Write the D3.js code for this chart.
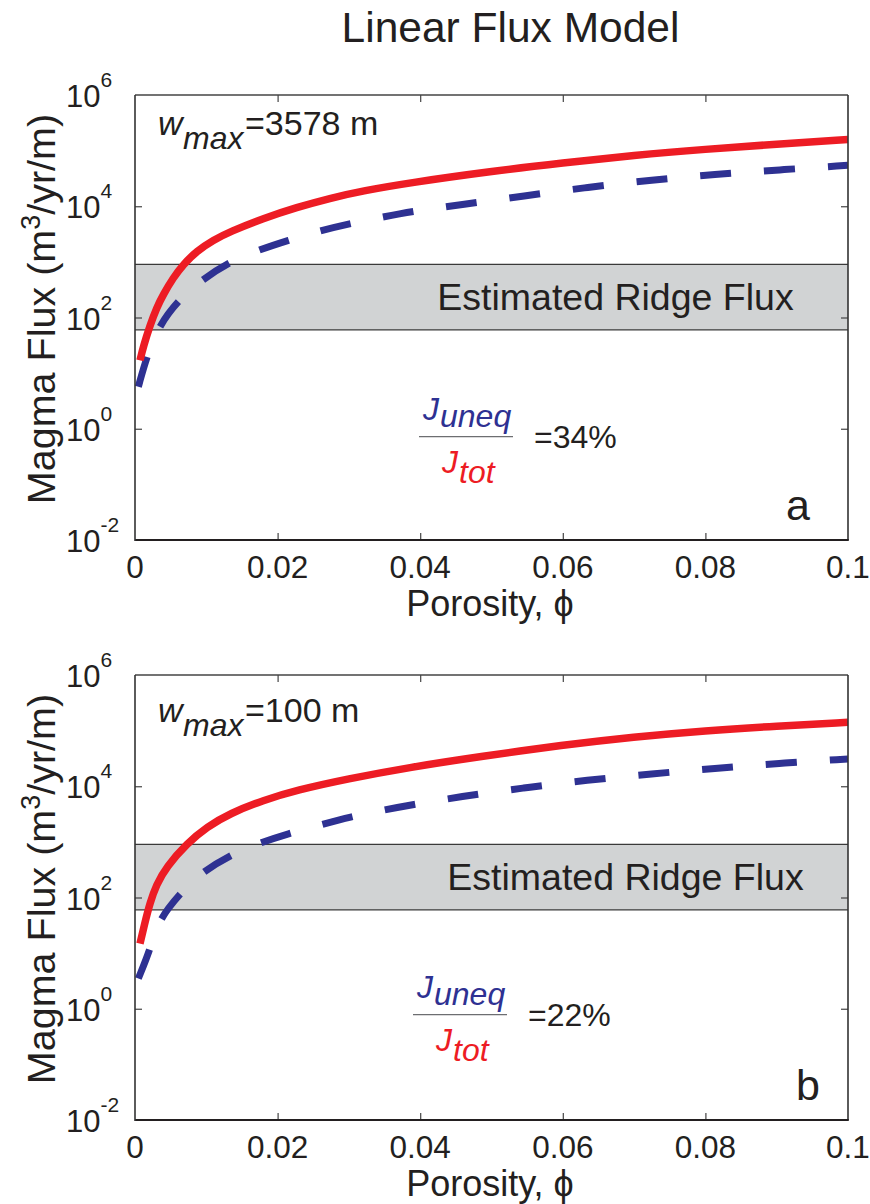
<!DOCTYPE html>
<html><head><meta charset="utf-8">
<script src="https://cdn.jsdelivr.net/npm/d3@7"></script>
<style>
body{margin:0;background:#fff}
svg{display:block}
text{font-family:"Liberation Sans",Arial,Helvetica,sans-serif;fill:#231f20}
</style>
</head><body>
<svg id="c" width="870" height="1204"></svg>
<script>
// ---------------- data ----------------
const title = "Linear Flux Model";
const xTicks = [0, 0.02, 0.04, 0.06, 0.08, 0.1];
const xTickLabels = ["0", "0.02", "0.04", "0.06", "0.08", "0.1"];
const yTickExponents = [-2, 0, 2, 4, 6];
const bandRange = [60, 900];
const bandLabel = "Estimated Ridge Flux";
const panelLetters = ["a", "b"];
const wmaxValues = ["=3578 m", "=100 m"];
const ratioLabels = ["=34%", "=22%"];

// panel a: total flux (red, solid)
const totPhiA  = [0.0007, 0.00117, 0.0021, 0.00304, 0.00397, 0.00537, 0.00677, 0.00865, 0.011, 0.0133, 0.018, 0.0227, 0.0273, 0.032, 0.0386, 0.05, 0.06, 0.07, 0.08, 0.09, 0.1];
const totFluxA = [17, 30, 72, 150, 260, 520, 900, 1560, 2470, 3490, 6070, 9550, 13900, 19000, 26500, 42500, 60000, 82400, 106000, 131000, 158000];
// panel a: unequilibrated flux (blue, dashed)
const unePhiA  = [0.00047, 0.00164, 0.00327, 0.00608, 0.00935, 0.0133, 0.0173, 0.0215, 0.0259, 0.0302, 0.0348, 0.0386, 0.046, 0.0545, 0.0635, 0.0725, 0.0813, 0.0903, 0.1];
const uneFluxA = [5.7, 19.7, 68, 206, 472, 1010, 1630, 2450, 3600, 4900, 6400, 8000, 10800, 15300, 22000, 29700, 37500, 44900, 54500];

// panel b: total flux
const totPhiB  = [0.0007, 0.0014, 0.0021, 0.003, 0.0044, 0.0073, 0.0101, 0.0133, 0.018, 0.0227, 0.0297, 0.0386, 0.0486, 0.06, 0.0699, 0.08, 0.09, 0.1];
const totFluxB = [14.8, 36, 80, 170, 355, 940, 1860, 3240, 5620, 8510, 13500, 22000, 34500, 55000, 77000, 100000, 121000, 141000];
// panel b: unequilibrated flux
const unePhiB  = [0.00047, 0.0021, 0.00327, 0.0063, 0.0091, 0.0133, 0.0173, 0.0215, 0.0259, 0.0302, 0.0348, 0.0386, 0.0456, 0.0545, 0.0634, 0.0725, 0.0813, 0.0902, 0.1];
const uneFluxB = [3.5, 11.3, 39, 117, 269, 575, 940, 1410, 2000, 2820, 3720, 4600, 6500, 9370, 12900, 16700, 21000, 25700, 31000];

// ---------------- layout ----------------
const W = 870, H = 1204;
const left = 135, right = 848;
const panelTops = [95, 675];
const plotH = 445;
const RED = "#ed1c24", BLUE = "#2e3192", BAND = "#d1d3d4", INK = "#231f20";

const panels = [
  {top: panelTops[0], tot: d3.zip(totPhiA, totFluxA), une: d3.zip(unePhiA, uneFluxA),
   letter: panelLetters[0], wmax: wmaxValues[0], ratio: ratioLabels[0],
   wBase: 135, bandDx: 0, fracDx: 0, fracDy: 0, letterX: 786},
  {top: panelTops[1], tot: d3.zip(totPhiB, totFluxB), une: d3.zip(unePhiB, uneFluxB),
   letter: panelLetters[1], wmax: wmaxValues[1], ratio: ratioLabels[1],
   wBase: 722 - 580, bandDx: 10, fracDx: -6, fracDy: -2, letterX: 796}
];

const svg = d3.select("#c");
svg.append("rect").attr("width", W).attr("height", H).attr("fill", "#fff");

svg.append("text").attr("x", 510.5).attr("y", 42)
  .attr("text-anchor", "middle").style("font-size", "42.5px").text(title);

const x = d3.scaleLinear().domain([0, 0.1]).range([left, right]);

panels.forEach((p, i) => {
  const top = p.top, bottom = top + plotH;
  const off = top - panelTops[0];
  const y = d3.scaleLog().domain([1e-2, 1e6]).range([bottom, top]);
  const g = svg.append("g");

  const clipId = "clip" + i;
  svg.append("clipPath").attr("id", clipId).append("rect")
    .attr("x", left).attr("y", top).attr("width", right - left).attr("height", plotH);

  // band
  g.append("rect").attr("x", left).attr("width", right - left)
    .attr("y", y(bandRange[1])).attr("height", y(bandRange[0]) - y(bandRange[1]))
    .attr("fill", BAND);
  [bandRange[0], bandRange[1]].forEach(v => {
    g.append("line").attr("x1", left).attr("x2", right)
      .attr("y1", y(v)).attr("y2", y(v)).attr("stroke", "#3a3a3a").attr("stroke-width", 1.2);
  });
  g.append("text").attr("x", 615.5 + p.bandDx).attr("y", 310 + off)
    .attr("text-anchor", "middle").style("font-size", "37.5px").text(bandLabel);

  // ticks via d3 axes (inward)
  const axB = d3.axisBottom(x).tickValues(xTicks.slice(1, -1)).tickSizeInner(-7).tickSizeOuter(0).tickFormat("");
  const axT = d3.axisTop(x).tickValues(xTicks.slice(1, -1)).tickSizeInner(-7).tickSizeOuter(0).tickFormat("");
  const yTickVals = yTickExponents.slice(1, -1).map(e => Math.pow(10, e));
  const axL = d3.axisLeft(y).tickValues(yTickVals).tickSizeInner(-7).tickSizeOuter(0).tickFormat("");
  const axR = d3.axisRight(y).tickValues(yTickVals).tickSizeInner(-7).tickSizeOuter(0).tickFormat("");
  [[axB, `translate(0,${bottom})`], [axT, `translate(0,${top})`],
   [axL, `translate(${left},0)`], [axR, `translate(${right},0)`]].forEach(([ax, tr]) => {
    const a = g.append("g").attr("transform", tr).call(ax);
    a.select(".domain").remove();
    a.selectAll(".tick line").attr("stroke", "#444").attr("stroke-width", 1.2);
  });

  // curves
  const line = d3.line().x(d => x(d[0])).y(d => y(d[1])).curve(d3.curveBasis);
  const cg = g.append("g").attr("clip-path", `url(#${clipId})`);
  cg.append("path").datum(p.une).attr("d", line).attr("fill", "none")
    .attr("stroke", BLUE).attr("stroke-width", 7).attr("stroke-dasharray", "31,33");
  cg.append("path").datum(p.tot).attr("d", line).attr("fill", "none")
    .attr("stroke", RED).attr("stroke-width", 7.5);

  // frame
  g.append("line").attr("x1", left).attr("x2", right).attr("y1", top).attr("y2", top)
    .attr("stroke", "#444").attr("stroke-width", 1.3);
  g.append("line").attr("x1", right).attr("x2", right).attr("y1", top).attr("y2", bottom)
    .attr("stroke", "#333").attr("stroke-width", 1.6);
  g.append("line").attr("x1", left).attr("x2", right + 0.8).attr("y1", bottom).attr("y2", bottom)
    .attr("stroke", INK).attr("stroke-width", 2);
  g.append("line").attr("x1", left).attr("x2", left).attr("y1", top).attr("y2", bottom + 1)
    .attr("stroke", "#333").attr("stroke-width", 1.6);

  // x tick labels
  xTicks.forEach((t, k) => {
    g.append("text").attr("x", x(t)).attr("y", bottom + 38)
      .attr("text-anchor", "middle").style("font-size", "31.5px").text(xTickLabels[k]);
  });
  // y tick labels 10^n
  yTickExponents.forEach(e => {
    const yy = y(Math.pow(10, e));
    const t = g.append("text").attr("x", 66).attr("y", yy + 12).style("font-size", "31px");
    t.append("tspan").text("10");
    t.append("tspan").attr("dy", -20).style("font-size", "21px").text(String(e));
  });

  // axis labels
  g.append("text").attr("x", 490).attr("y", 616 + off)
    .attr("text-anchor", "middle").style("font-size", "36px").text("Porosity, \u03D5");
  const yl = g.append("text")
    .attr("transform", `translate(55,${309 + off}) rotate(-90)`)
    .attr("text-anchor", "middle").style("font-size", "39.5px");
  yl.append("tspan").text("Magma Flux (m");
  yl.append("tspan").attr("dy", -15).style("font-size", "27px").text("3");
  yl.append("tspan").attr("dy", 15).text("/yr/m)");

  // w_max annotation
  const wb = p.wBase + off;
  g.append("text").attr("x", 158).attr("y", wb).style("font-size", "34px")
    .style("font-style", "italic").text("w");
  g.append("text").attr("x", 183).attr("y", wb + 14).style("font-size", "32px")
    .style("font-style", "italic").text("max");
  g.append("text").attr("x", 245).attr("y", wb).style("font-size", "34px").text(p.wmax);

  // fraction
  const fx = p.fracDx, fy = off + p.fracDy;
  g.append("text").attr("x", 423 + fx).attr("y", 420 + fy).style("font-size", "32px")
    .style("font-style", "italic").style("fill", BLUE).text("J");
  g.append("text").attr("x", 440 + fx).attr("y", 427 + fy).style("font-size", "32px")
    .style("font-style", "italic").style("fill", BLUE).text("uneq");
  g.append("line").attr("x1", 419 + fx).attr("x2", 513 + fx)
    .attr("y1", 436.7 + fy).attr("y2", 436.7 + fy).attr("stroke", "#6d6e71").attr("stroke-width", 1.2);
  g.append("text").attr("x", 442 + fx).attr("y", 473 + fy).style("font-size", "32px")
    .style("font-style", "italic").style("fill", RED).text("J");
  g.append("text").attr("x", 459 + fx).attr("y", 483 + fy).style("font-size", "32px")
    .style("font-style", "italic").style("fill", RED).text("tot");
  g.append("text").attr("x", 534 + fx).attr("y", 448 + fy).style("font-size", "32px").text(p.ratio);

  // panel letter
  g.append("text").attr("x", p.letterX).attr("y", bottom - 20).style("font-size", "43px").text(p.letter);
});
</script>
</body></html>
